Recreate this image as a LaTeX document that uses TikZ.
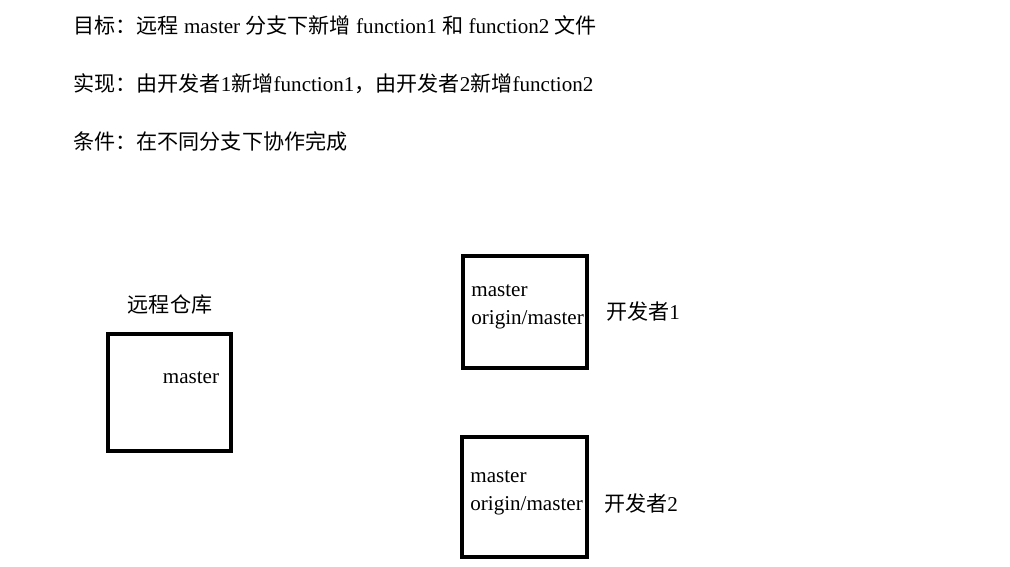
\documentclass[tikz,border=0pt]{standalone}
\usepackage{fontspec}
\setmainfont{Liberation Serif}
\newfontfamily\cjk{Noto Sans CJK SC}[BoldFont={* Bold}]
\begin{document}
\begin{tikzpicture}[x=0.02cm, y=-0.02cm,
  every node/.style={font=\fontsize{12}{14}\selectfont, inner sep=0pt},
  box/.style={draw, line width=2pt}]
  \useasboundingbox (0,0) rectangle (1010,567);
  % goal lines
  \node[anchor=west] (goal) at (73,25) {{\cjk 目标：远程} master {\cjk 分支下新增} function1 {\cjk 和} function2 {\cjk 文件}};
  \node[anchor=west] (impl) at (73,84) {{\cjk 实现：由开发者}1{\cjk 新增}function1{\cjk ，由开发者}2{\cjk 新增}function2};
  \node[anchor=west] (cond) at (73,141) {\cjk 条件：在不同分支下协作完成};
  % remote
  \node (remotelabel) at (170,305) {\cjk 远程仓库};
  \draw[box] (108,334) rectangle (231,451);
  \node (remotemaster) at (191,378) {master};
  % developer 1
  \draw[box] (463,256) rectangle (587,368);
  \node[anchor=west] (dev1master) at (471,291) {master};
  \node[anchor=west] (dev1origin) at (471,320) {origin/master};
  \node (dev1label) at (643,311) {{\cjk 开发者}1};
  % developer 2
  \draw[box] (462,437) rectangle (587,557);
  \node[anchor=west] (dev2master) at (470,477) {master};
  \node[anchor=west] (dev2origin) at (470,506) {origin/master};
  \node (dev2label) at (641,503) {{\cjk 开发者}2};
\end{tikzpicture}
\end{document}
